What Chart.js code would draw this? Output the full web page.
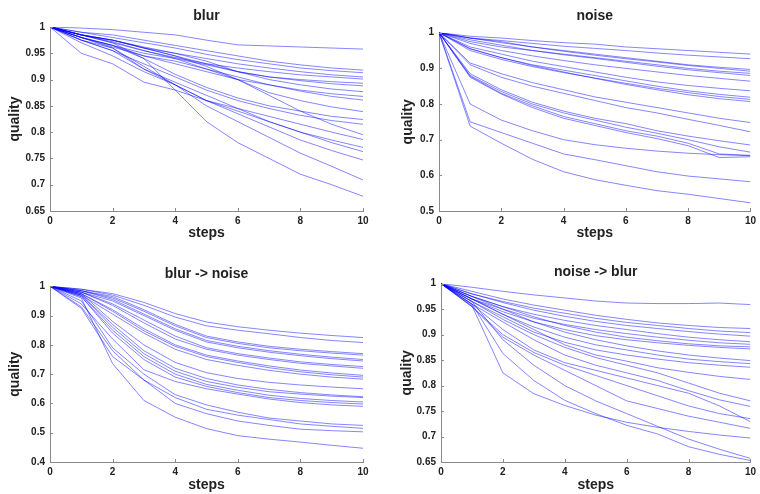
<!DOCTYPE html>
<html>
<head>
<meta charset="utf-8">
<script src="https://cdn.jsdelivr.net/npm/chart.js@4/dist/chart.umd.min.js"></script>
<style>
  html, body { margin: 0; padding: 0; background: #fff; }
  #wrap { position: relative; width: 760px; height: 494px; overflow: hidden; }
  canvas { position: absolute; }
</style>
</head>
<body>
<div id="wrap">
  <canvas id="c1" width="380" height="247" style="left:0;top:0"></canvas>
  <canvas id="c2" width="380" height="247" style="left:380px;top:0"></canvas>
  <canvas id="c3" width="380" height="247" style="left:0;top:247px"></canvas>
  <canvas id="c4" width="380" height="247" style="left:380px;top:247px"></canvas>
</div>
<script>
// ---- data ----
const steps = [0, 1, 2, 3, 4, 5, 6, 7, 8, 9, 10];
const xTicks = [0, 2, 4, 6, 8, 10];

const titles = ["blur", "noise", "blur -> noise", "noise -> blur"];

const yTicksBlur = [0.65, 0.7, 0.75, 0.8, 0.85, 0.9, 0.95, 1];
const yTicksNoise = [0.5, 0.6, 0.7, 0.8, 0.9, 1];
const yTicksBlurNoise = [0.4, 0.5, 0.6, 0.7, 0.8, 0.9, 1];
const yTicksNoiseBlur = [0.65, 0.7, 0.75, 0.8, 0.85, 0.9, 0.95, 1];

const blurSeries = [
  [1, .998, .995, .990, .985, .975, .966, .964, .962, .960, .958],
  [1, .990, .985, .975, .965, .955, .945, .935, .928, .922, .918],
  [1, .990, .980, .970, .960, .948, .938, .930, .922, .917, .913],
  [1, .985, .975, .960, .950, .940, .930, .922, .915, .909, .905],
  [1, .985, .972, .955, .942, .930, .922, .915, .909, .905, .901],
  [1, .985, .975, .960, .945, .930, .915, .905, .900, .896, .893],
  [1, .980, .965, .950, .940, .928, .915, .905, .898, .892, .888],
  [1, .985, .975, .962, .950, .935, .915, .900, .890, .882, .877],
  [1, .980, .965, .945, .930, .915, .900, .890, .880, .873, .868],
  [1, .980, .962, .945, .935, .920, .905, .890, .878, .868, .861],
  [1, .985, .970, .955, .940, .920, .900, .875, .860, .848, .839],
  [1, .980, .965, .940, .910, .885, .865, .850, .840, .830, .824],
  [1, .975, .955, .930, .905, .880, .860, .845, .832, .822, .815],
  [1, .985, .975, .960, .945, .925, .900, .870, .840, .815, .795],
  [1, .950, .930, .895, .880, .860, .845, .830, .815, .800, .786],
  [1, .975, .960, .925, .890, .860, .840, .820, .800, .785, .771],
  [1, .975, .955, .920, .895, .870, .845, .820, .800, .780, .763],
  [1, .970, .945, .915, .890, .860, .835, .810, .785, .765, .747],
  [1, .980, .960, .920, .890, .850, .820, .790, .760, .735, .709],
  [1, .985, .970, .940, .880, .820, .780, .750, .720, .700, .678]
];

const noiseSeries = [
  [1, .990, .985, .978, .972, .968, .960, .955, .950, .945, .940],
  [1, .985, .978, .970, .962, .956, .950, .943, .937, .932, .927],
  [1, .985, .975, .960, .950, .940, .930, .920, .910, .903, .897],
  [1, .985, .972, .960, .948, .937, .927, .918, .908, .900, .892],
  [1, .975, .960, .950, .940, .930, .920, .910, .900, .892, .886],
  [1, .980, .965, .950, .938, .928, .917, .906, .896, .888, .880],
  [1, .970, .950, .935, .922, .910, .900, .890, .880, .872, .864],
  [1, .960, .940, .920, .905, .890, .875, .862, .852, .844, .837],
  [1, .955, .930, .910, .895, .880, .865, .850, .837, .827, .819],
  [1, .950, .925, .905, .888, .873, .858, .844, .832, .821, .813],
  [1, .955, .930, .908, .890, .872, .855, .840, .826, .815, .807],
  [1, .915, .885, .860, .840, .820, .805, .790, .775, .760, .748],
  [1, .910, .875, .850, .830, .810, .790, .775, .757, .740, .722],
  [1, .885, .840, .805, .780, .760, .745, .725, .710, .697, .685],
  [1, .880, .835, .800, .775, .755, .735, .718, .700, .680, .665],
  [1, .878, .830, .795, .765, .745, .725, .710, .690, .660, .656],
  [1, .875, .828, .790, .760, .740, .720, .703, .683, .650, .652],
  [1, .800, .755, .725, .700, .686, .676, .668, .662, .658, .655],
  [1, .750, .720, .690, .660, .644, .627, .610, .598, .590, .582],
  [1, .738, .690, .645, .610, .588, .572, .557, .547, .535, .523]
];

const blurNoiseSeries = [
  [1, .990, .975, .945, .907, .878, .862, .850, .840, .832, .825],
  [1, .990, .970, .935, .895, .865, .850, .838, .825, .815, .808],
  [1, .985, .965, .920, .870, .830, .810, .795, .785, .777, .770],
  [1, .985, .960, .915, .865, .825, .805, .790, .780, .772, .765],
  [1, .985, .955, .905, .855, .815, .795, .780, .768, .758, .750],
  [1, .980, .950, .900, .850, .810, .790, .775, .763, .753, .745],
  [1, .980, .940, .885, .830, .790, .770, .755, .742, .733, .726],
  [1, .980, .935, .875, .820, .785, .765, .750, .737, .728, .720],
  [1, .975, .920, .855, .800, .765, .745, .728, .714, .704, .696],
  [1, .975, .915, .848, .795, .760, .740, .722, .708, .698, .690],
  [1, .970, .905, .840, .785, .750, .730, .713, .700, .690, .683],
  [1, .975, .880, .800, .740, .705, .685, .672, .663, .656, .650],
  [1, .970, .870, .780, .720, .685, .663, .648, .637, .629, .623],
  [1, .970, .860, .770, .710, .675, .655, .640, .632, .625, .620],
  [1, .965, .850, .760, .700, .665, .645, .628, .617, .610, .605],
  [1, .965, .840, .750, .690, .658, .637, .620, .610, .603, .598],
  [1, .940, .820, .715, .675, .650, .632, .615, .603, .595, .590],
  [1, .950, .790, .700, .630, .595, .570, .550, .540, .530, .525],
  [1, .930, .780, .680, .620, .580, .560, .545, .530, .522, .515],
  [1, .925, .760, .680, .600, .565, .540, .525, .512, .507, .503],
  [1, .960, .736, .610, .553, .514, .490, .478, .468, .457, .447]
];

const noiseBlurSeries = [
  [1, .993, .985, .978, .972, .966, .962, .961, .961, .962, .959],
  [1, .985, .970, .958, .948, .938, .930, .923, .918, .914, .912],
  [1, .980, .965, .952, .942, .932, .924, .918, .912, .907, .904],
  [1, .980, .963, .948, .936, .926, .918, .912, .906, .901, .897],
  [1, .975, .955, .940, .928, .918, .910, .902, .895, .890, .886],
  [1, .970, .950, .932, .920, .910, .902, .895, .889, .884, .881],
  [1, .975, .955, .935, .918, .905, .895, .888, .882, .878, .876],
  [1, .970, .945, .925, .910, .898, .890, .884, .879, .875, .872],
  [1, .975, .950, .925, .905, .890, .878, .868, .860, .854, .849],
  [1, .970, .940, .915, .895, .880, .870, .860, .852, .847, .843],
  [1, .965, .935, .905, .885, .870, .860, .852, .845, .840, .836],
  [1, .970, .940, .910, .880, .860, .848, .835, .826, .818, .812],
  [1, .965, .930, .900, .875, .855, .840, .825, .805, .785, .770],
  [1, .960, .925, .890, .860, .840, .825, .810, .790, .772, .759],
  [1, .955, .900, .865, .840, .820, .800, .780, .760, .745, .735],
  [1, .960, .910, .870, .845, .830, .815, .800, .785, .760, .729],
  [1, .955, .895, .860, .830, .800, .770, .755, .740, .728, .716],
  [1, .957, .825, .784, .761, .742, .728, .718, .710, .703, .697],
  [1, .960, .863, .810, .771, .745, .722, .705, .680, .665, .653],
  [1, .965, .890, .840, .800, .770, .745, .720, .695, .675, .657]
];

// ---- styling / layout per panel ----
const FONT = 'Arial, "Liberation Sans", Helvetica, sans-serif';
const LINE = 'rgba(0,0,255,0.48)';
const AXIS = '#8a8a8a';
const TEXT = '#222';

const panels = [
  { id: 'c1', title: titles[0], series: blurSeries, yTicks: yTicksBlur,
    yW: 50, xH: 36, padR: 17, tTop: 7.6, tBot: 2.6, yTitlePad: 6.6, xTitlePad: 5.9 },
  { id: 'c2', title: titles[1], series: noiseSeries, yTicks: yTicksNoise,
    yW: 59, xH: 36, padR: 8, tTop: 7.6, tBot: 8.3, yTitlePad: 19.6, xTitlePad: 5.3 },
  { id: 'c3', title: titles[2], series: blurNoiseSeries, yTicks: yTicksBlurNoise,
    yW: 50, xH: 32, padR: 17, tTop: 18.3, tBot: 4.2, yTitlePad: 6.6, xTitlePad: 0 },
  { id: 'c4', title: titles[3], series: noiseBlurSeries, yTicks: yTicksNoiseBlur,
    yW: 61, xH: 32, padR: 8, tTop: 16.6, tBot: 3.3, yTitlePad: 18.3, xTitlePad: 0.3 }
];

function fmt(v) { return String(parseFloat(Number(v).toFixed(2))); }

// small inward tick marks, MATLAB style, placed through the chart's own scales
const innerTicks = {
  id: 'innerTicks',
  afterDatasetsDraw(chart) {
    const { ctx, chartArea, scales } = chart;
    ctx.save();
    ctx.strokeStyle = AXIS;
    ctx.lineWidth = 1;
    ctx.beginPath();
    scales.x.ticks.forEach(t => {
      const px = Math.round(scales.x.getPixelForValue(t.value)) + 0.5;
      ctx.moveTo(px, chartArea.bottom);
      ctx.lineTo(px, chartArea.bottom - 3);
    });
    scales.y.ticks.forEach(t => {
      const py = Math.round(scales.y.getPixelForValue(t.value)) + 0.5;
      ctx.moveTo(chartArea.left, py);
      ctx.lineTo(chartArea.left + 3, py);
    });
    ctx.stroke();
    ctx.restore();
  }
};

panels.forEach(p => {
  const datasets = p.series.map(vals => ({
    data: vals.map((v, i) => ({ x: steps[i], y: v })),
    borderColor: LINE,
    backgroundColor: LINE,
    hoverBorderColor: LINE,
    borderWidth: 1,
    pointRadius: 0,
    pointHoverRadius: 0,
    tension: 0,
    fill: false
  }));
  new Chart(document.getElementById(p.id), {
    type: 'line',
    data: { datasets },
    plugins: [innerTicks],
    options: {
      responsive: false,
      animation: false,
      events: [],
      devicePixelRatio: 1,
      layout: { padding: { left: 0, right: p.padR, top: 0, bottom: 0 } },
      plugins: {
        legend: { display: false },
        tooltip: { enabled: false },
        title: {
          display: true,
          text: p.title,
          fullSize: false,
          color: TEXT,
          font: { family: FONT, size: 14, weight: 'bold' },
          padding: { top: p.tTop, bottom: p.tBot }
        }
      },
      scales: {
        x: {
          type: 'linear',
          min: 0, max: 10,
          afterBuildTicks: s => { s.ticks = xTicks.map(v => ({ value: v })); },
          afterFit: s => { s.height = p.xH; },
          grid: { display: false, drawTicks: false },
          border: { display: true, color: AXIS, width: 1 },
          ticks: { color: TEXT, padding: 4, font: { family: FONT, size: 10, weight: 'bold' },
                   maxRotation: 0, callback: v => fmt(v) },
          title: { display: true, text: 'steps', color: TEXT,
                   font: { family: FONT, size: 14, weight: 'bold' },
                   padding: { top: 0, bottom: p.xTitlePad } }
        },
        y: {
          type: 'linear',
          min: p.yTicks[0], max: p.yTicks[p.yTicks.length - 1],
          afterBuildTicks: s => { s.ticks = p.yTicks.map(v => ({ value: v })); },
          afterFit: s => { s.width = p.yW; },
          grid: { display: false, drawTicks: false },
          border: { display: true, color: AXIS, width: 1 },
          ticks: { color: TEXT, padding: 5, font: { family: FONT, size: 10, weight: 'bold' },
                   callback: v => fmt(v) },
          title: { display: true, text: 'quality', color: TEXT,
                   font: { family: FONT, size: 14, weight: 'bold' },
                   padding: { top: p.yTitlePad, bottom: 0 } }
        }
      }
    }
  });
});
</script>
</body>
</html>
